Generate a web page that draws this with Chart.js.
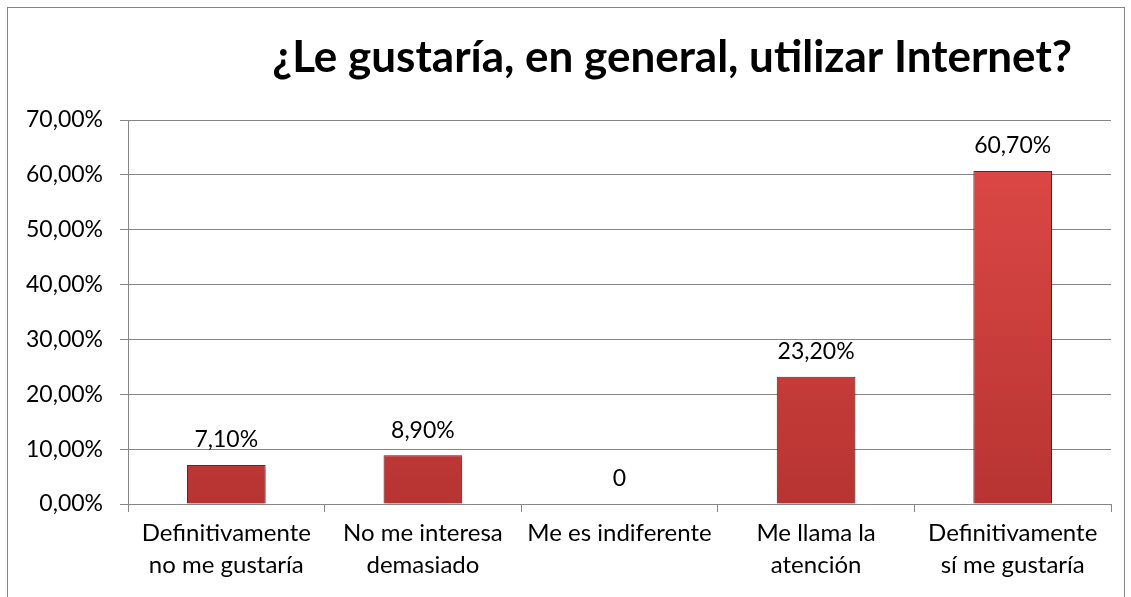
<!DOCTYPE html>
<html>
<head>
<meta charset="utf-8">
<script src="https://cdn.jsdelivr.net/npm/chart.js@4.4.1/dist/chart.umd.min.js"></script>
<style>
  html, body { margin: 0; padding: 0; background: #fff; overflow: hidden; }
  .frame {
    position: absolute; left: 7px; top: 7px;
    width: 1116px; height: 599px;
    border: 1px solid #868686;
  }
  canvas { display: block; }
</style>
</head>
<body>
<div class="frame"><canvas id="chart" width="1116" height="599"></canvas></div>
<script>
  // ---------- data ----------
  const chartTitle = "¿Le gustaría, en general, utilizar Internet?";
  const categories = [
    ["Definitivamente", "no me gustaría"],
    ["No me interesa", "demasiado"],
    ["Me es indiferente"],
    ["Me llama la", "atención"],
    ["Definitivamente", "sí me gustaría"],
  ];
  const percentValues = [7.1, 8.9, 0, 23.2, 60.7];
  const yTicks = [0, 10, 20, 30, 40, 50, 60, 70];

  const FONT = "Lato";

  function fmtPercent(v) {
    if (v === 0) return "0";
    return v.toFixed(2).replace(".", ",") + "%";
  }

  // title sits right of centre like the original, so it is drawn here
  const offsetTitle = {
    id: "offsetTitle",
    afterDraw(chart) {
      const { ctx, chartArea } = chart;
      ctx.save();
      ctx.font = `bold 44px ${FONT}`;
      ctx.fillStyle = "#000";
      ctx.textAlign = "right";
      ctx.textBaseline = "alphabetic";
      ctx.fillText(chartTitle, chartArea.right - 39, 64);
      ctx.restore();
    },
  };

  // soft drop shadow under the bars
  const barShadow = {
    id: "barShadow",
    beforeDatasetsDraw(chart) {
      const ctx = chart.ctx;
      ctx.save();
      ctx.shadowColor = "rgba(0,0,0,0.35)";
      ctx.shadowBlur = 5;
      ctx.shadowOffsetX = 1;
      ctx.shadowOffsetY = 2;
    },
    afterDatasetsDraw(chart) {
      chart.ctx.restore();
    },
  };

  // value labels above each bar, positioned from the bar elements
  const valueLabels = {
    id: "valueLabels",
    afterDatasetsDraw(chart) {
      const { ctx } = chart;
      const meta = chart.getDatasetMeta(0);
      ctx.save();
      ctx.font = `23px ${FONT}`;
      ctx.fillStyle = "#000";
      ctx.textAlign = "center";
      ctx.textBaseline = "middle";
      meta.data.forEach((bar, i) => {
        ctx.fillText(fmtPercent(percentValues[i]), bar.x, bar.y - 25);
      });
      ctx.restore();
    },
  };

  function barFill(context) {
    const area = context.chart.chartArea;
    if (!area) return "#d04040";
    const g = context.chart.ctx.createLinearGradient(0, area.top, 0, area.bottom);
    g.addColorStop(0, "#e04a48");
    g.addColorStop(1, "#b73432");
    return g;
  }

  new Chart(document.getElementById("chart"), {
    type: "bar",
    data: {
      labels: categories,
      datasets: [{
        data: percentValues,
        backgroundColor: barFill,
        borderColor: "#7d1f1f",
        borderWidth: 1,
        barPercentage: 0.4,
        categoryPercentage: 1,
      }],
    },
    options: {
      responsive: false,
      animation: false,
      layout: { padding: { left: 0, right: 13, top: 112, bottom: 0 } },
      plugins: {
        legend: { display: false },
        tooltip: { enabled: false },
        title: { display: false },
      },
      scales: {
        x: {
          grid: { display: true, drawOnChartArea: false, offset: true, color: "#868686", tickLength: 8 },
          border: { color: "#868686" },
          ticks: { color: "#000", padding: 6, maxRotation: 0, font: { family: FONT, size: 24, lineHeight: 1.3 } },
          afterFit(scale) { scale.height = 103; },
        },
        y: {
          min: 0,
          max: 70,
          afterBuildTicks(scale) { scale.ticks = yTicks.map((v) => ({ value: v })); },
          grid: { color: "#868686", tickLength: 8 },
          border: { color: "#868686" },
          ticks: {
            color: "#000",
            padding: 17,
            font: { family: FONT, size: 23 },
            callback: (v) => v.toFixed(2).replace(".", ",") + "%",
          },
          afterFit(scale) { scale.width = 120; },
        },
      },
    },
    plugins: [barShadow, valueLabels, offsetTitle],
  });
</script>
</body>
</html>
